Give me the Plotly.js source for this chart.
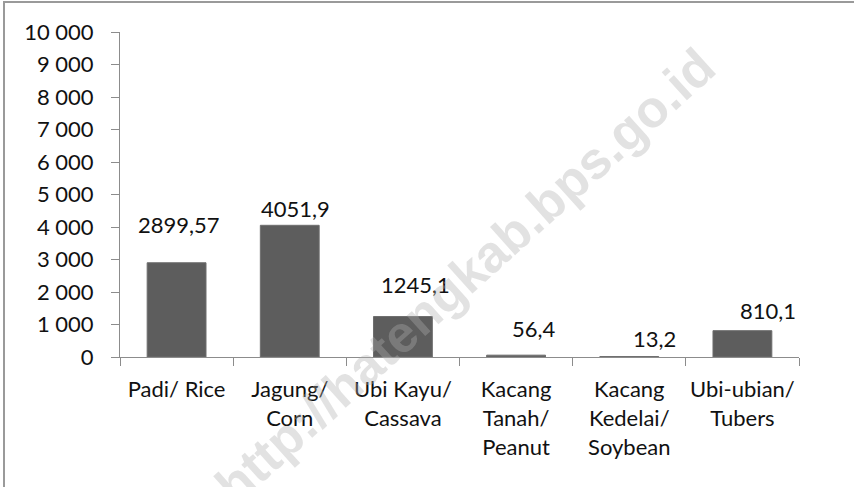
<!DOCTYPE html>
<html>
<head>
<meta charset="utf-8">
<script src="https://cdn.plot.ly/plotly-3.0.1.min.js"></script>
<style>
  html, body { margin: 0; padding: 0; background: #fff; }
  #wrap { position: relative; width: 854px; height: 487px; overflow: hidden; }
  #chart { position: absolute; left: 0; top: 0; width: 854px; height: 487px; }
  #frame { position: absolute; left: 3px; top: 1px; width: 900px; height: 600px;
           border-left: 2px solid #9a9a9a; border-top: 2px solid #9a9a9a; pointer-events: none; }
</style>
</head>
<body>
<div id="wrap">
  <div id="chart"></div>
  <div id="frame"></div>
</div>
<script>
// Data
var categories = [
  "Padi/ Rice",
  "Jagung/<br>Corn",
  "Ubi Kayu/<br>Cassava",
  "Kacang<br>Tanah/<br>Peanut",
  "Kacang<br>Kedelai/<br>Soybean",
  "Ubi-ubian/<br>Tubers"
];
var values = [2899.57, 4051.9, 1245.1, 56.4, 13.2, 810.1];
var yTickValues = [0, 1000, 2000, 3000, 4000, 5000, 6000, 7000, 8000, 9000, 10000];

// Label placement offsets (pixels) as in the reference
var labelXShift = [2, 6, 13, 18, 25, 26];
var labelYShift = [38, 16.5, 32.5, 27, 18.5, 20.5];

var FONT = "Lato, 'Open Sans', sans-serif";

var trace = {
  type: "bar",
  x: categories,
  y: values,
  marker: { color: "#5d5d5d", line: { color: "#6e6e6e", width: 1 } },
  hoverinfo: "none"
};

var annotations = values.map(function (v, i) {
  return {
    x: categories[i], y: v, xref: "x", yref: "y",
    text: String(v).replace(".", ","),
    showarrow: false, xanchor: "center", yanchor: "middle",
    xshift: labelXShift[i], yshift: labelYShift[i],
    font: { family: FONT, size: 22, color: "#111" }
  };
});

annotations.push({
  xref: "paper", yref: "paper", x: 0.508, y: 0.25,
  xanchor: "center", yanchor: "middle",
  text: "http://hatengkab.bps.go.id",
  showarrow: false, textangle: -42,
  font: { family: "'Liberation Sans', Arial, sans-serif", size: 52, color: "rgba(175,175,175,0.36)", weight: "bold" }
});

var layout = {
  width: 854, height: 487,
  margin: { l: 120, r: 55, t: 32, b: 130 },
  paper_bgcolor: "rgba(0,0,0,0)",
  plot_bgcolor: "rgba(0,0,0,0)",
  separators: ", ",
  showlegend: false,
  bargap: 0.48,
  font: { family: FONT, size: 22, color: "#111" },
  xaxis: {
    type: "category",
    showline: true, linecolor: "#8c8c8c", linewidth: 1,
    ticks: "outside", tickson: "boundaries", ticklen: 8, tickcolor: "#8c8c8c",
    ticklabelstandoff: 13,
    showgrid: false, zeroline: false, tickangle: 0,
    tickfont: { family: FONT, size: 22, color: "#111" }
  },
  yaxis: {
    range: [0, 10000],
    tickvals: yTickValues,
    tickformat: ",d",
    showline: true, linecolor: "#8c8c8c", linewidth: 1,
    ticks: "outside", ticklen: 8, tickcolor: "#8c8c8c",
    ticklabelstandoff: 13,
    showgrid: false, zeroline: false,
    tickfont: { family: FONT, size: 22, color: "#111" }
  },
  annotations: annotations
};

Plotly.newPlot("chart", [trace], layout, { staticPlot: true, displayModeBar: false });
</script>
</body>
</html>
